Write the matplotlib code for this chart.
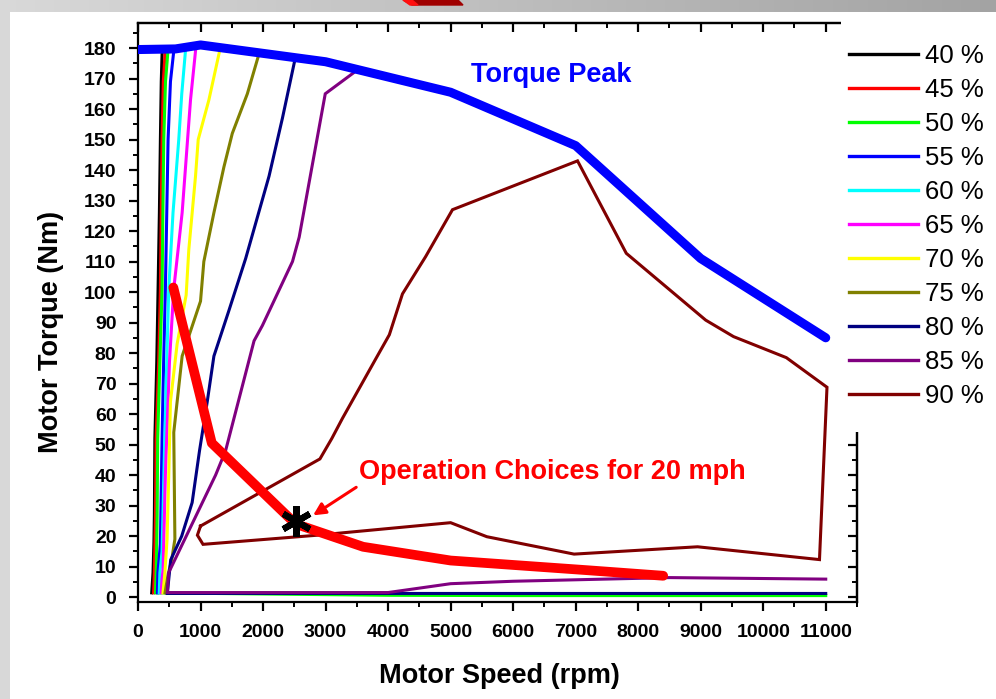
import matplotlib
matplotlib.use("Agg")
import matplotlib.pyplot as plt
import numpy as np
from matplotlib.patches import Polygon, Rectangle
from matplotlib.ticker import MultipleLocator, FixedLocator

plt.rcParams['font.family'] = ['Liberation Sans', 'DejaVu Sans']

# ---------------- data ----------------
levels = ["40 %", "45 %", "50 %", "55 %", "60 %", "65 %", "70 %", "75 %", "80 %", "85 %", "90 %"]
colors = ["#000000", "#ff0000", "#00ff00", "#0000ff", "#00ffff", "#ff00ff",
          "#ffff00", "#808000", "#000080", "#800080", "#800000"]

eff40_x = [219, 240, 255, 262, 270, 300, 321, 342, 358, 372, 385]
eff40_y = [1.4, 8, 18, 27, 52, 77, 101, 126, 150, 169, 178]
eff45_x = [250, 262, 272, 280, 290, 330, 358, 372, 385, 405, 432]
eff45_y = [1.4, 8, 18, 27, 52, 77, 101, 126, 150, 169, 178]
eff50_x = [11000, 6000, 4000, 280, 290, 300, 306, 315, 350, 385, 398, 412, 440, 475]
eff50_y = [0.5, 0.5, 0.6, 1.4, 8, 18, 27, 52, 77, 101, 126, 150, 169, 178]
eff55_x = [310, 318, 335, 358, 385, 410, 438, 460, 481, 519, 572]
eff55_y = [1.4, 8, 12, 17.4, 52, 77, 101, 126, 150, 169, 179]
eff60_x = [340, 350, 370, 385, 428, 460, 492, 560, 652, 700, 759]
eff60_y = [1.4, 8, 12, 15, 52, 77, 101, 126, 150, 165, 179]
eff65_x = [370, 385, 401, 438, 503, 572, 706, 840, 920]
eff65_y = [1.4, 6, 9, 40, 77, 101, 126, 163, 179]
eff70_x = [400, 430, 465, 492, 519, 626, 770, 813, 920, 963, 1134, 1305]
eff70_y = [1.4, 8, 19, 40, 64, 83, 99, 114, 138, 150, 163, 179]
eff75_x = [432, 485, 539, 590, 572, 706, 1000, 1053, 1214, 1374, 1508, 1749, 1920]
eff75_y = [1.4, 7.8, 12.2, 19, 54, 79, 97, 110, 126, 141, 152, 165, 177]
eff80_x = [11000, 4000, 469, 523, 699, 866, 984, 1107, 1214, 1455, 1722, 2096, 2310, 2508]
eff80_y = [1.2, 1.2, 1.2, 12.2, 20, 31, 48, 64, 79, 94, 111, 138, 157, 176]
eff85_x = [11000, 8500, 6000, 5000, 4000, 470, 490, 1241, 1401, 1856, 1989, 2471, 2578, 2995, 3456]
eff85_y = [5.9, 6.4, 5.2, 4.4, 1.5, 1.5, 8, 40, 48, 84, 89, 110, 118, 165, 172]
eff90_x = [1000, 2910, 3100, 3270, 3800, 4020, 4230, 4600, 5030, 7030, 7810, 9080, 9525,
           10370, 11020, 10900, 8950, 6975, 5580, 5000, 2870, 1040, 950, 1000]
eff90_y = [23.3, 45.3, 52, 58.6, 78, 86, 99.4, 111.6, 127, 143, 112.7, 90.8, 85.4,
           78.5, 68.8, 12.3, 16.5, 14.1, 19.8, 24.4, 20.3, 17.3, 20.3, 23.3]

peak_x = [0, 600, 1000, 3000, 5000, 7000, 9000, 11000]
peak_y = [179.5, 179.7, 181, 175.5, 165.5, 148, 111, 85]

oper_x = [565, 1180, 2520, 3600, 5000, 7200, 8400]
oper_y = [101.5, 50.5, 24.0, 16.5, 12.0, 8.8, 7.0]

choice_x, choice_y = 2520, 25

curves_x = [eff40_x, eff45_x, eff50_x, eff55_x, eff60_x, eff65_x, eff70_x, eff75_x, eff80_x, eff85_x, eff90_x]
curves_y = [eff40_y, eff45_y, eff50_y, eff55_y, eff60_y, eff65_y, eff70_y, eff75_y, eff80_y, eff85_y, eff90_y]

# ---------------- figure ----------------
W, H = 996, 699
fig = plt.figure(figsize=(W / 100, H / 100), dpi=100)
fig.patch.set_facecolor("white")

# decorative frame (slide background)
bg = fig.add_axes([0, 0, 1, 1], zorder=-10)
bg.axis("off")
grad = np.linspace(0.85, 0.64, 256).reshape(1, -1)
bg.imshow(np.dstack([grad, grad, grad]), extent=[0, W, 12, 0], aspect="auto")
bg.imshow(np.full((2, 2, 3), 0.85), extent=[0, 10, H, 0], aspect="auto")
bg.add_patch(Polygon([[403, 0], [458, 0], [463, 5], [412, 5]], closed=True, color="#a00000"))
bg.add_patch(Polygon([[403, 0], [412, 0], [418, 5], [410, 5]], closed=True, color="#ff1010"))
bg.set_xlim(0, W)
bg.set_ylim(H, 0)

ax = fig.add_axes([138 / W, 97 / H, (857 - 138) / W, (602 - 23) / H])
ax.set_xlim(0, 11500)
ax.set_ylim(-1.6, 188.2)

for cx, cy, c in zip(curves_x, curves_y, colors):
    ax.plot(cx, cy, color=c, lw=2.2, zorder=2, solid_joinstyle="miter")

ax.plot(peak_x, peak_y, color="#0000ff", lw=6.5, zorder=4, solid_capstyle="round")
ax.plot(oper_x, oper_y, color="#ff0000", lw=7, zorder=5, solid_capstyle="round")
ax.plot([choice_x], [choice_y], marker=(6, 2, 0), color="black", ms=22, mew=4.5, zorder=6)

ax.annotate("", xy=(2800, 26.8), xytext=(3490, 36),
            arrowprops=dict(arrowstyle="-|>", color="#ff0000", lw=2.2,
                            mutation_scale=18, shrinkA=0, shrinkB=0), zorder=6)
ax.text(3530, 41, "Operation Choices for 20 mph", color="#ff0000", fontsize=19.5,
        fontweight="bold", ha="left", va="center", zorder=7)
ax.text(5330, 171, "Torque Peak", color="#0000ff", fontsize=19.5,
        fontweight="bold", ha="left", va="center", zorder=7)

# ticks
ax.xaxis.set_major_locator(MultipleLocator(1000))
ax.xaxis.set_minor_locator(MultipleLocator(500))
ax.yaxis.set_major_locator(FixedLocator(np.arange(0, 181, 10)))
ax.yaxis.set_minor_locator(FixedLocator(np.arange(5, 186, 10)))
ax.tick_params(which="major", direction="out", length=6.5, width=1.6, labelsize=14, pad=9)
ax.tick_params(which="minor", direction="out", length=3.5, width=1.4)
for lab in ax.get_xticklabels() + ax.get_yticklabels():
    lab.set_fontweight("bold")
for s in ax.spines.values():
    s.set_linewidth(1.6)

top = ax.secondary_xaxis("top")
top.xaxis.set_major_locator(MultipleLocator(1000))
top.xaxis.set_minor_locator(MultipleLocator(500))
top.tick_params(which="major", direction="in", length=6.5, width=1.6, labeltop=False)
top.tick_params(which="minor", direction="in", length=3.5, width=1.4)
top.spines["top"].set_linewidth(1.6)

right = ax.secondary_yaxis("right")
right.yaxis.set_major_locator(FixedLocator(np.arange(0, 181, 10)))
right.yaxis.set_minor_locator(FixedLocator(np.arange(5, 186, 10)))
right.tick_params(which="major", direction="in", length=6.5, width=1.6, labelright=False)
right.tick_params(which="minor", direction="in", length=3.5, width=1.4)
right.spines["right"].set_linewidth(1.6)

ax.set_xlabel("Motor Speed (rpm)", fontsize=19.5, fontweight="bold", va="center")
ax.xaxis.set_label_coords((499 - 138) / 719, (602 - 676) / 579)
ax.set_ylabel("Motor Torque (Nm)", fontsize=19.5, fontweight="bold", va="center")
ax.yaxis.set_label_coords((51 - 138) / 719, (602 - 332) / 579)

# white panel behind the legend (hides the frame corner like the original)
fig.patches.append(Rectangle((841 / W, 1 - 432 / H), (W - 841) / W, (432 - 12) / H,
                             transform=fig.transFigure, facecolor="white",
                             edgecolor="none", zorder=1))

handles = ax.get_lines()[:11]
leg = fig.legend(handles, levels, loc="upper left", bbox_to_anchor=(841 / W, 1 - 36 / H),
                 frameon=False, fontsize=18.5, handlelength=2.7, handletextpad=0.25,
                 labelspacing=0.39, borderpad=0.3, borderaxespad=0)
leg.set_zorder(20)
for l in leg.get_lines():
    l.set_linewidth(2.4)

fig.savefig("out.png", dpi=100)
